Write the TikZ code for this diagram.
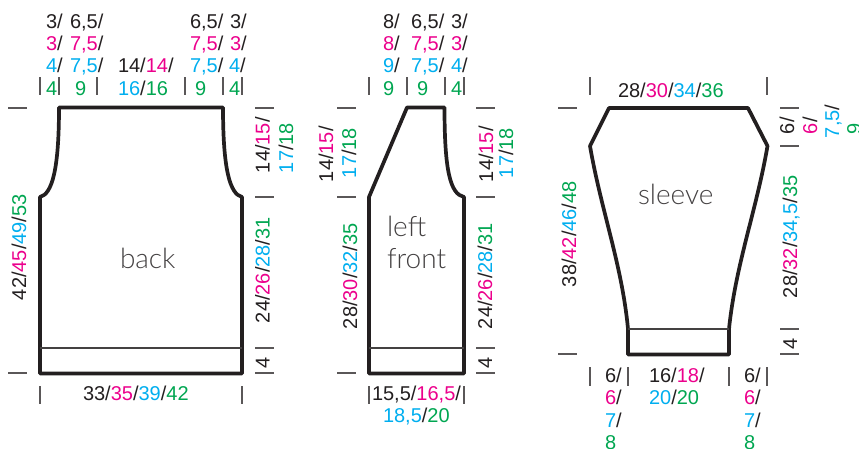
\documentclass[tikz,border=0pt]{standalone}
\usepackage{fontspec}
\setmainfont{Liberation Sans}
\newfontfamily\lightfont{Lato Light}
\definecolor{inkK}{HTML}{231F20}
\definecolor{inkM}{HTML}{EC008C}
\definecolor{inkC}{HTML}{00AEEF}
\definecolor{inkG}{HTML}{00A651}
\newcommand{\cK}[1]{\textcolor{inkK}{#1}}
\newcommand{\cM}[1]{\textcolor{inkM}{#1}}
\newcommand{\cC}[1]{\textcolor{inkC}{#1}}
\newcommand{\cG}[1]{\textcolor{inkG}{#1}}
\tikzset{
  lbl/.style={inner sep=0pt,outer sep=0pt,anchor=base west,text=inkK,font=\fontsize{20}{22}\selectfont},
  rlbl/.style={lbl,rotate=90},
  title/.style={inner sep=0pt,outer sep=0pt,anchor=base west,text=inkK!85,font=\lightfont\fontsize{28}{30}\selectfont},
  piece/.style={draw=inkK,line width=3.7pt,line join=round,line cap=round},
  hem/.style={draw=inkK!85,line width=1.1pt},
  tick/.style={draw=inkK!75,line width=1.3pt}
}
\begin{document}
\begin{tikzpicture}[x=1pt,y=-1pt]
\useasboundingbox (0,0) rectangle (859,448);
\clip (0,0) rectangle (859,448);
% pieces
\draw[piece] (59,107.5) -- (223,107.5) .. controls (223,170) and (230,194) .. (242,197) -- (242,373.5) -- (40,373.5) -- (40,197) .. controls (52,194) and (59,170) .. (59,107.5) -- cycle;
\draw[hem] (40,348) -- (242,348);
\draw[piece] (407,107.5) -- (444.5,107.5) .. controls (444.5,170) and (450,194) .. (464,197) -- (464,373.5) -- (369,373.5) -- (369,197) -- cycle;
\draw[hem] (369,348) -- (464,348);
\draw[piece] (609,108) -- (748,108) -- (767.5,146) .. controls (756.5,210) and (735.5,265) .. (729,329) -- (729,354.5) -- (628,354.5) -- (628,329) .. controls (622,265) and (601,210) .. (590,146) -- cycle;
\draw[hem] (628,329) -- (729,329);
% vertical ticks
\foreach \x in {40,59,97,185,223,242,369,407,445,464,590,767}
  \draw[tick] (\x,77) -- (\x,95);
\foreach \x in {40,242,369,464}
  \draw[tick] (\x,386) -- (\x,404);
\foreach \x in {590,628,729,767}
  \draw[tick] (\x,367) -- (\x,386);
% horizontal ticks
\foreach \y in {108,373}
  \draw[tick] (8,\y) -- (27,\y);
\foreach \y in {108,197,348,373}
  \draw[tick] (255,\y) -- (274,\y);
\foreach \y in {108,197,373}
  \draw[tick] (337,\y) -- (356,\y);
\foreach \y in {108,197,348,373}
  \draw[tick] (476,\y) -- (495,\y);
\foreach \y in {108,354}
  \draw[tick] (558,\y) -- (577,\y);
\foreach \y in {108,146,329,354}
  \draw[tick] (780,\y) -- (799,\y);
% titles
\node[title] (tback) at (120,268) {back};
\node[title] (tleft) at (387,236) {left};
\node[title] (tfront) at (387,268) {front};
\node[title] (tsleeve) at (638,204) {sleeve};
% back, top
\node[lbl] (b1) at (46,28) {\cK{3/}};
\node[lbl] (b2) at (70,28) {\cK{6,5/}};
\node[lbl] (b3) at (190,28) {\cK{6,5/}};
\node[lbl] (b4) at (230,28) {\cK{3/}};
\node[lbl] (b5) at (46,50) {\cM{3}\cK{/}};
\node[lbl] (b6) at (70,50) {\cM{7,5}\cK{/}};
\node[lbl] (b7) at (190,50) {\cM{7,5}\cK{/}};
\node[lbl] (b8) at (230,50) {\cM{3}\cK{/}};
\node[lbl] (b9) at (46,72.5) {\cC{4}\cK{/}};
\node[lbl] (b10) at (70,72.5) {\cC{7,5}\cK{/}};
\node[lbl] (b11) at (118,72.5) {\cK{14/}\cM{14}\cK{/}};
\node[lbl] (b12) at (190,72.5) {\cC{7,5}\cK{/}};
\node[lbl] (b13) at (229,72.5) {\cC{4}\cK{/}};
\node[lbl] (b14) at (46,95) {\cG{4}};
\node[lbl] (b15) at (75,95) {\cG{9}};
\node[lbl] (b16) at (118,95) {\cC{16}\cK{/}\cG{16}};
\node[lbl] (b17) at (195,95) {\cG{9}};
\node[lbl] (b18) at (229,95) {\cG{4}};
% back, sides and bottom
\node[lbl] (b19) at (83,400.5) {\cK{33/}\cM{35}\cK{/}\cC{39}\cK{/}\cG{42}};
\node[rlbl] (b20) at (26,300) {\cK{42/}\cM{45}\cK{/}\cC{49}\cK{/}\cG{53}};
\node[rlbl] (b21) at (269.5,173) {\cK{14/}\cM{15}\cK{/}};
\node[rlbl] (b22) at (293,173) {\cC{17}\cK{/}\cG{18}};
\node[rlbl] (b23) at (269.5,323) {\cK{24/}\cM{26}\cK{/}\cC{28}\cK{/}\cG{31}};
\node[rlbl] (b24) at (269.5,368) {\cK{4}};
% left front, top
\node[lbl] (f1) at (383,28) {\cK{8/}};
\node[lbl] (f2) at (411,28) {\cK{6,5/}};
\node[lbl] (f3) at (451,28) {\cK{3/}};
\node[lbl] (f4) at (383,50) {\cM{8}\cK{/}};
\node[lbl] (f5) at (411,50) {\cM{7,5}\cK{/}};
\node[lbl] (f6) at (451,50) {\cM{3}\cK{/}};
\node[lbl] (f7) at (383,72.5) {\cC{9}\cK{/}};
\node[lbl] (f8) at (411,72.5) {\cC{7,5}\cK{/}};
\node[lbl] (f9) at (451,72.5) {\cC{4}\cK{/}};
\node[lbl] (f10) at (383,95) {\cG{9}};
\node[lbl] (f11) at (417,95) {\cG{9}};
\node[lbl] (f12) at (451,95) {\cG{4}};
% left front, sides and bottom
\node[rlbl] (f13) at (333,182) {\cK{14/}\cM{15}\cK{/}};
\node[rlbl] (f14) at (356,178) {\cC{17}\cK{/}\cG{18}};
\node[rlbl] (f15) at (493,182) {\cK{14/}\cM{15}\cK{/}};
\node[rlbl] (f16) at (513,178) {\cC{17}\cK{/}\cG{18}};
\node[rlbl] (f17) at (357,329) {\cK{28/}\cM{30}\cK{/}\cC{32}\cK{/}\cG{35}};
\node[rlbl] (f18) at (492,329) {\cK{24/}\cM{26}\cK{/}\cC{28}\cK{/}\cG{31}};
\node[rlbl] (f19) at (492,368) {\cK{4}};
\node[lbl] (f20) at (372,400) {\cK{15,5/}\cM{16,5}\cK{/}};
\node[lbl] (f21) at (383,422) {\cC{18,5}\cK{/}\cG{20}};
% sleeve
\node[lbl] (s1) at (618,97) {\cK{28/}\cM{30}\cK{/}\cC{34}\cK{/}\cG{36}};
\node[rlbl] (s2) at (794,134) {\cK{6/}};
\node[rlbl] (s3) at (817,134) {\cM{6}\cK{/}};
\node[rlbl] (s4) at (839,138) {\cC{7,5}\cK{/}};
\node[rlbl] (s5) at (861,134) {\cG{9}};
\node[rlbl] (s6) at (797,298) {\cK{28/}\cM{32}\cK{/}\cC{34,5}\cK{/}\cG{35}};
\node[rlbl] (s7) at (576,287) {\cK{38/}\cM{42}\cK{/}\cC{46}\cK{/}\cG{48}};
\node[rlbl] (s8) at (797,349) {\cK{4}};
\node[lbl] (s9) at (605,382) {\cK{6/}};
\node[lbl] (s10) at (605,404) {\cM{6}\cK{/}};
\node[lbl] (s11) at (605,427) {\cC{7}\cK{/}};
\node[lbl] (s12) at (605,449) {\cG{8}};
\node[lbl] (s13) at (744,382) {\cK{6/}};
\node[lbl] (s14) at (744,404) {\cM{6}\cK{/}};
\node[lbl] (s15) at (744,427) {\cC{7}\cK{/}};
\node[lbl] (s16) at (744,449) {\cG{8}};
\node[lbl] (s17) at (649,382) {\cK{16/}\cM{18}\cK{/}};
\node[lbl] (s18) at (649,404) {\cC{20}\cK{/}\cG{20}};
\end{tikzpicture}
\end{document}
